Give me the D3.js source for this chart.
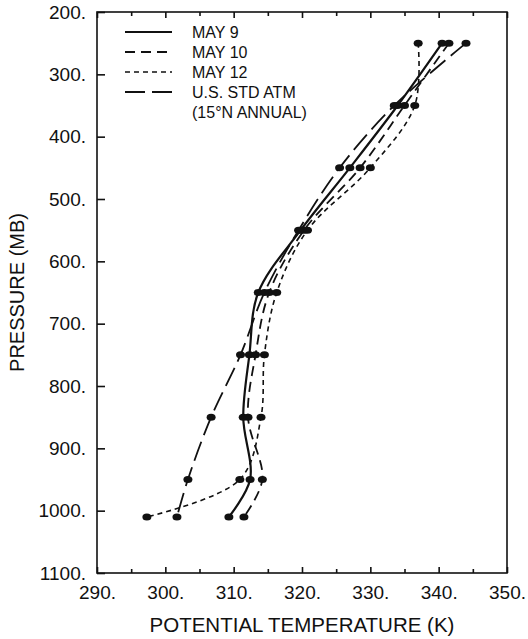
<!DOCTYPE html>
<html>
<head>
<meta charset="utf-8">
<script src="https://cdn.jsdelivr.net/npm/d3@7"></script>
<style>
  body { margin: 0; background: #fff; }
  svg { font-family: "Liberation Sans", Arial, sans-serif; }
</style>
</head>
<body>
<div id="chart"></div>
<script>
// pressure levels (mb) of the soundings
const levels = [250, 350, 450, 550, 650, 750, 850, 950, 1010];

// potential temperature (K) at each level
const may9   = [340.5, 334.0, 327.0, 319.8, 313.6, 312.3, 311.4, 312.4, 309.3];
const may10  = [341.5, 335.0, 328.5, 320.3, 315.2, 313.2, 312.1, 314.2, 311.5];
const may12  = [337.0, 336.5, 330.0, 320.8, 316.3, 314.5, 314.0, 310.9, 297.3];
const stdAtm = [344.0, 333.5, 325.5, 319.5, 314.5, 311.0, 306.7, 303.3, 301.7];

const xTicks = [290, 300, 310, 320, 330, 340, 350];
const xMinor = [295, 305, 315, 325, 335, 345];
const yTicks = [200, 300, 400, 500, 600, 700, 800, 900, 1000, 1100];

const seriesNames = ["MAY 9", "MAY 10", "MAY 12", "U.S. STD ATM"];

function drawChart() {
    const margin = {top: 12, right: 21, bottom: 66, left: 97},
        width = 528 - margin.left - margin.right,
        height = 639 - margin.top - margin.bottom;

    const svg = d3.select("#chart")
        .append("svg")
        .attr("width", 528).attr("height", 639)
        .append("g")
        .attr("transform", `translate(${margin.left},${margin.top})`);

    const x = d3.scaleLinear()
        .domain([290, 350])
        .range([0, width]);

    const y = d3.scaleLinear()
        .domain([200, 1100])
        .range([0, height]);

    // frame
    svg.append("rect")
        .attr("width", width).attr("height", height)
        .attr("fill", "none")
        .attr("stroke", "#111")
        .attr("stroke-width", 1.6);

    // bottom axis, ticks point inward
    const bottom = svg.append("g")
        .attr("transform", `translate(0, ${height})`)
        .call(d3.axisBottom(x).tickValues(xTicks).tickSize(-6).tickPadding(13).tickFormat(d => d + "."));
    svg.append("g")
        .attr("transform", `translate(0, ${height})`)
        .call(d3.axisBottom(x).tickValues(xMinor).tickSize(-4).tickFormat(""));

    // top axis
    svg.append("g")
        .call(d3.axisTop(x).tickValues(xTicks).tickSize(-6).tickFormat(""));
    svg.append("g")
        .call(d3.axisTop(x).tickValues(xMinor).tickSize(-4).tickFormat(""));

    // left axis
    const left = svg.append("g")
        .call(d3.axisLeft(y).tickValues(yTicks).tickSize(-8).tickPadding(11).tickFormat(d => d + "."));

    svg.selectAll(".domain").remove();
    svg.selectAll(".tick line").attr("stroke", "#111").attr("stroke-width", 1.6);
    bottom.selectAll("text").style("font-size", "19px").attr("fill", "#111");
    left.selectAll("text").style("font-size", "19px").attr("fill", "#111");

    svg.append("text")
        .attr("text-anchor", "middle")
        .attr("x", width / 2)
        .attr("y", height + 59)
        .style("font-size", "20.5px")
        .attr("fill", "#111")
        .text("POTENTIAL TEMPERATURE (K)");

    svg.append("text")
        .attr("text-anchor", "middle")
        .attr("transform", `translate(-73, ${height / 2}) rotate(-90)`)
        .style("font-size", "20px")
        .attr("fill", "#111")
        .text("PRESSURE (MB)");

    const series = [may9, may10, may12, stdAtm];
    const dashes = ["none", "10,6", "5,4", "20,7"];
    const widths = [2.2, 1.8, 1.6, 1.8];

    const line = d3.line()
        .x(d => x(d.theta))
        .y(d => y(d.p))
        .curve(d3.curveCatmullRom.alpha(0.5));

    series.forEach((vals, i) => {
        const data = levels.map((p, j) => ({p: p, theta: vals[j]}));
        svg.append("path")
            .datum(data)
            .attr("fill", "none")
            .attr("stroke", "#111")
            .attr("stroke-width", widths[i])
            .attr("stroke-dasharray", dashes[i])
            .attr("d", line);
        svg.append("g")
            .selectAll("ellipse")
            .data(data)
            .join("ellipse")
            .attr("cx", d => x(d.theta))
            .attr("cy", d => y(d.p))
            .attr("rx", 4.5)
            .attr("ry", 3.5)
            .attr("fill", "#111");
    });

    // legend
    const legend = svg.append("g").attr("transform", "translate(28, 20)");
    seriesNames.forEach((name, i) => {
        legend.append("line")
            .attr("x1", 0).attr("x2", 47)
            .attr("y1", i * 20).attr("y2", i * 20)
            .attr("stroke", "#111")
            .attr("stroke-width", widths[i])
            .attr("stroke-dasharray", dashes[i]);
        legend.append("text")
            .attr("x", 67)
            .attr("y", i * 20)
            .attr("dy", "0.35em")
            .style("font-size", "16px")
            .attr("fill", "#111")
            .text(name);
    });
    legend.append("text")
        .attr("x", 67)
        .attr("y", 80)
        .attr("dy", "0.35em")
        .style("font-size", "16px")
        .attr("fill", "#111")
        .text("(15°N ANNUAL)");

    svg.node();
}

drawChart();
</script>
</body>
</html>
